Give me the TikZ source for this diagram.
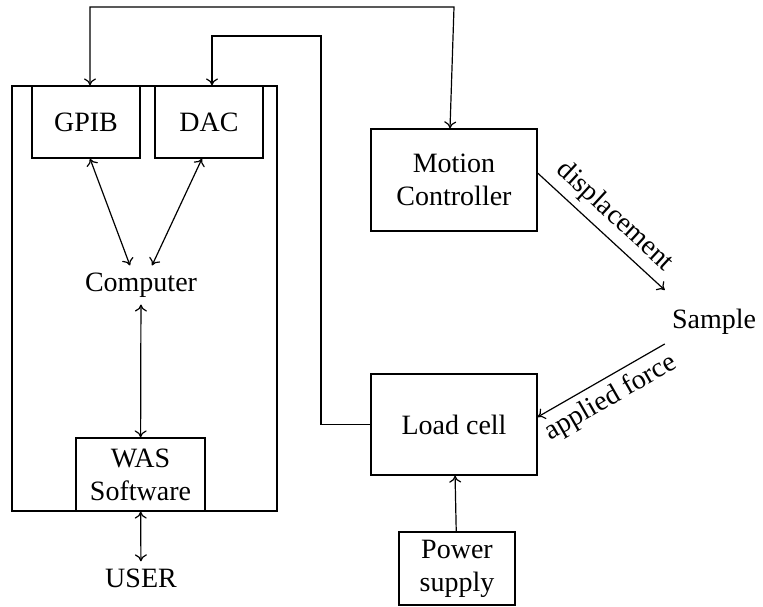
\documentclass[tikz,border=0pt]{standalone}
\usepackage{fontspec}
\setmainfont{Liberation Serif}
\usepackage{tikz}
\usetikzlibrary{positioning,arrows.meta}

\tikzset{
    block/.style={draw, align=center, inner sep=1pt},
    label/.style={align=center}
}

\begin{document}
\begin{tikzpicture}[x=0.5pt, y=-0.5pt, line width=0.6pt, >={To[length=3.5pt,width=6pt]},
    font=\fontsize{14}{16.5}\selectfont]

    \useasboundingbox (0,0) rectangle (763,606);

    % computer side
    \node[draw, minimum width=132.5pt, minimum height=212.5pt] (pc) at (144.5, 298.5) {};
    \node[block, minimum width=54pt, minimum height=36pt] (gpib) at (86, 122) {GPIB};
    \node[block, minimum width=54pt, minimum height=36pt] (dac) at (209, 122) {DAC};
    \node[label] (computer) at (141, 285) {Computer};
    \node[block, minimum width=64.5pt, minimum height=36.5pt] (was) at (140.5, 474.5) {WAS\\Software};
    \node[label] (user) at (141, 578) {USER};

    % test rig
    \node[block, minimum width=83pt, minimum height=51pt] (mc) at (454, 180) {Motion\\Controller};
    \node[label] (sample) at (714, 322) {Sample};
    \node[block, minimum width=83pt, minimum height=50.5pt] (lc) at (454, 424.5) {Load cell};
    \node[block, minimum width=58pt, minimum height=36.5pt] (ps) at (457, 568.5) {Power\\supply};

    \coordinate (gpibwire) at (0, 7);
    \coordinate (dacwire) at (321, 36);

    \draw[<->] ([xshift=2pt]gpib.north) |- (gpibwire -| mc.north) -- ([xshift=-2pt]mc.north);
    \draw[->] (lc.west) -| (dacwire) -| ([xshift=1.5pt]dac.north);

    \path[<->]
        ([xshift=2pt]gpib.south) edge ([xshift=-5.5pt]computer.north)
        ([xshift=-3.5pt]dac.south) edge ([xshift=5.5pt]computer.north)
        (computer) edge (was)
        (was) edge (user);

    \path[->]
        ([yshift=3.5pt]mc.east) edge node[sloped, above] {displacement} ([yshift=6pt]sample.north west)
        ([yshift=-1pt]sample.south west) edge node[sloped, below] {applied force} ([yshift=3.75pt]lc.east)
        (ps) edge (lc);

\end{tikzpicture}
\end{document}
